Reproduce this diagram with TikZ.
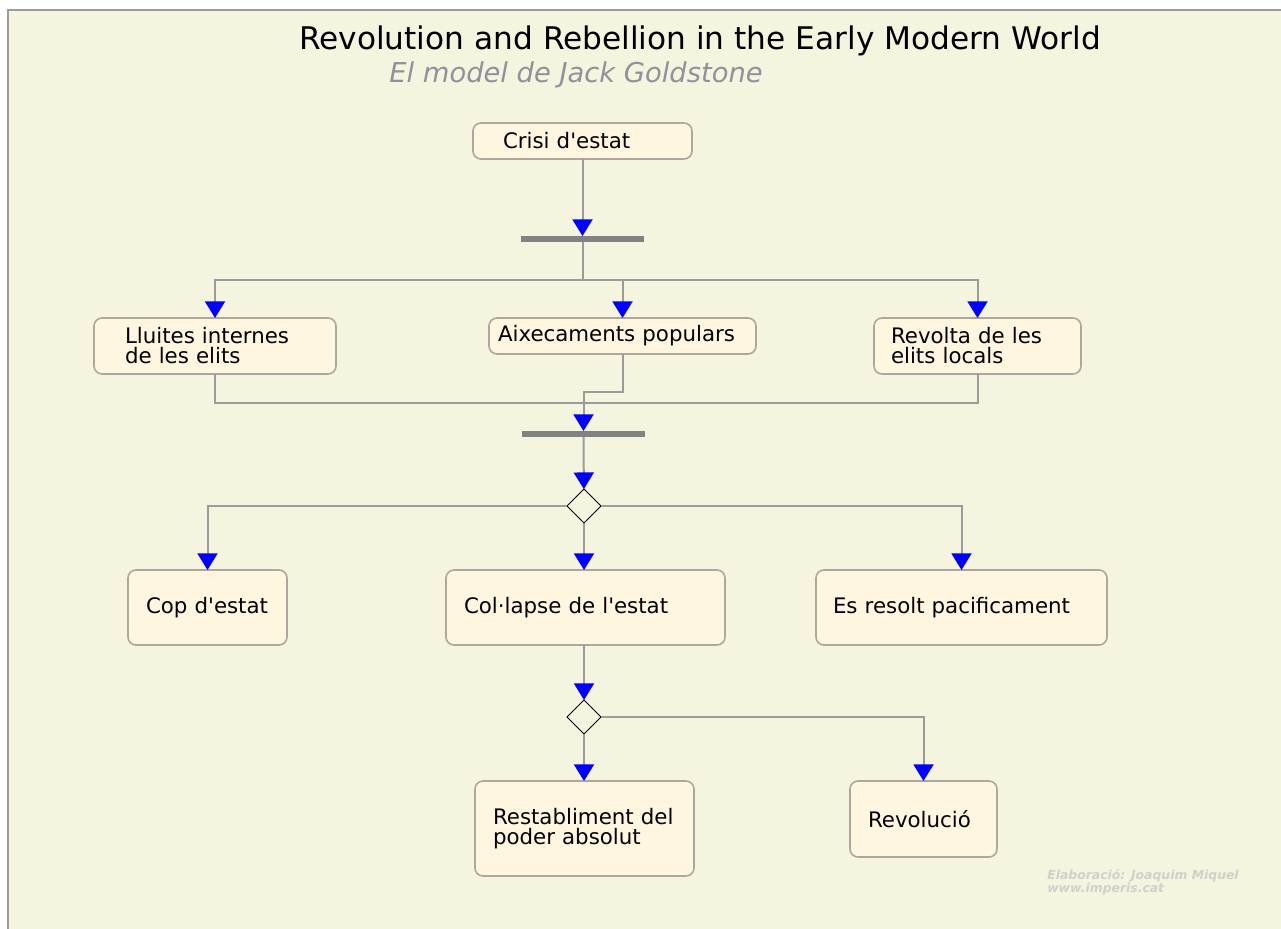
\documentclass[tikz,border=0pt]{standalone}
\usepackage{fontspec}
\setmainfont[Ligatures=TeXOff]{DejaVu Sans}
\usetikzlibrary{arrows.meta,shapes.geometric}
\definecolor{bgc}{RGB}{245,244,222}
\definecolor{boxfill}{RGB}{255,246,224}
\definecolor{boxline}{RGB}{172,168,158}
\definecolor{linec}{RGB}{155,155,155}
\definecolor{barc}{RGB}{130,130,130}
\definecolor{subc}{RGB}{145,145,155}
\definecolor{footc}{RGB}{208,208,204}
\tikzset{
  actbox/.style={draw=boxline, line width=1.2pt, fill=boxfill, rounded corners=6pt, outer sep=0pt,
    anchor=north west, align=left, inner ysep=0pt, font=\fontsize{16pt}{15pt}\selectfont},
  forkbar/.style={fill=barc, draw=none, minimum width=92.25pt, minimum height=4.5pt, inner sep=0pt, outer sep=0pt},
  choice/.style={diamond, draw=black, line width=0.7pt, fill=bgc, minimum size=25.5pt, inner sep=0pt, outer sep=0pt},
  conn/.style={draw=linec, line width=1.5pt},
  arr/.style={conn, -{Triangle[width=15pt,length=12.5pt,color=blue]}}
}
\begin{document}
\begin{tikzpicture}[x=0.75pt,y=-0.75pt]
\useasboundingbox (0,0) rectangle (1281,928);
\fill[white] (0,0) rectangle (1281,928);
\draw[fill=bgc, draw=linec, line width=1.5pt] (8,10) rectangle (1300,950);

\node[font=\fontsize{23.4pt}{27pt}\selectfont] (title) at (700,41) {Revolution and Rebellion in the Early Modern World};
\node[font=\fontsize{20.5pt}{24pt}\selectfont\itshape, text=subc] (sub) at (576,75) {El model de Jack Goldstone};

\node[actbox, text width=119.25pt, inner xsep=22.5pt, minimum height=27pt] (crisi) at (473,123) {Crisi d'estat};
\node[forkbar] (bar1) at (582.5,239) {};
\node[actbox, text width=135pt, inner xsep=23.25pt, minimum height=42pt] (lluites) at (94,318) {Lluites internes\\de les elits};
\node[actbox, text width=186.75pt, inner xsep=6.75pt, minimum height=27pt] (aix) at (489,318) {Aixecaments populars};
\node[actbox, text width=129.75pt, inner xsep=12.75pt, minimum height=42pt] (revolta) at (874,318) {Revolta de les\\elits locals};
\node[forkbar] (bar2) at (583.5,434) {};
\node[choice] (d1) at (584,506) {};
\node[actbox, text width=92.25pt, inner xsep=13.5pt, minimum height=56.25pt] (cop) at (128,570) {Cop d'estat};
\node[actbox, text width=182.25pt, inner xsep=13.5pt, minimum height=56.25pt] (col) at (446,570) {Col·lapse de l'estat};
\node[actbox, text width=192.75pt, inner xsep=12.75pt, minimum height=56.25pt] (es) at (816,570) {Es resolt pacificament};
\node[choice] (d2) at (584,717) {};
\node[actbox, text width=137.25pt, inner xsep=13.5pt, minimum height=71.25pt] (rest) at (475,781) {Restabliment del\\poder absolut};
\node[actbox, text width=83.25pt, inner xsep=13.5pt, minimum height=57pt] (revo) at (850,781) {Revolució};

\node[anchor=north west, align=left, text=footc, inner sep=0pt,
  font=\fontsize{9.3pt}{9.75pt}\selectfont\bfseries\itshape] (foot) at (1047,869) {Elaboració: Joaquim Miquel\\www.imperis.cat};

% connectors
\draw[arr] (crisi) -- (bar1);
\coordinate (j1) at (582.5,280);
\draw[conn] (bar1.south) -- (j1);
\draw[arr] (j1) -| (lluites.north);
\draw[arr] (j1) -| (aix.north);
\draw[arr] (j1) -| (revolta.north);

\coordinate (j2) at (977.5,403);
\draw[conn] (lluites.south) |- (j2) -- (revolta.south);
\draw[arr] (aix.south) -- ++(0,38) -| (bar2.north);

\draw[arr] (bar2) -- (d1);
\draw[arr] (d1.west) -| (cop.north);
\draw[arr] (d1.south) -- (d1.south |- col.north);
\draw[arr] (d1.east) -| (es.north);

\draw[arr] (col.south -| d2.north) -- (d2.north);
\draw[arr] (d2.south) -- (d2.south |- rest.north);
\draw[arr] (d2.east) -| (revo.north);
\end{tikzpicture}
\end{document}
